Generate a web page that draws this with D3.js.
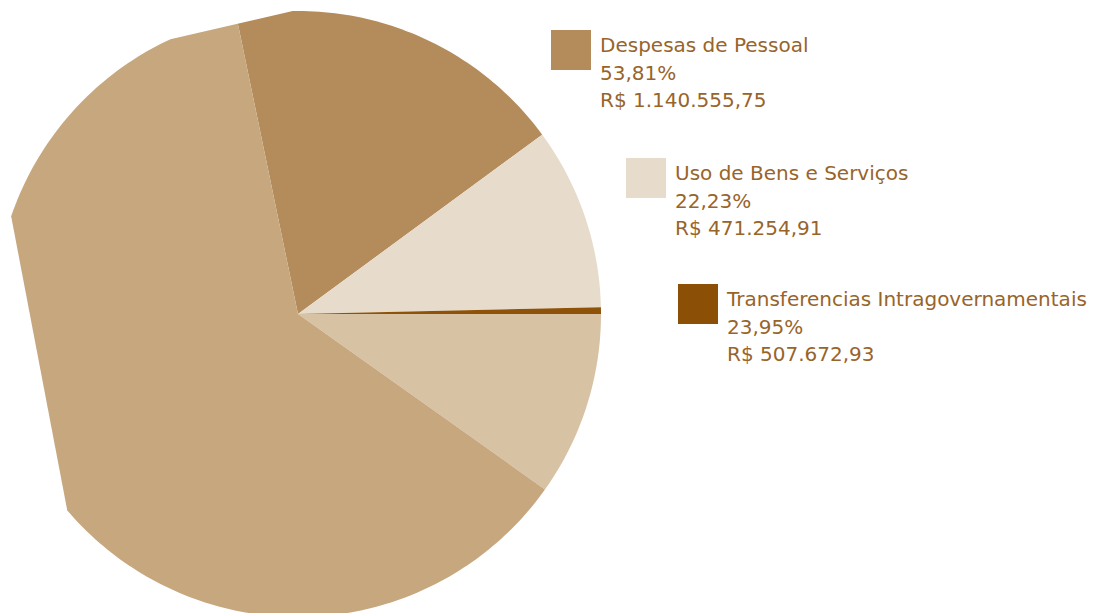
<!DOCTYPE html>
<html lang="pt">

<head>
    <meta charset="UTF-8">
    <title>Despesas</title>
    <script src="https://d3js.org/d3.v7.min.js"></script>
    <style>
        body {
            margin: 0;
            padding: 0;
            background: #fff;
            overflow: hidden;
        }

        .legend-text {
            font-family: "DejaVu Sans", sans-serif;
            font-size: 20px;
            fill: #98642a;
        }
    </style>
</head>

<body>
    <div id="chart"></div>

    <script>
        // slices (share of the circle, %), clockwise
        const sliceNames = ["Despesas de Pessoal", "Uso de Bens e Serviços", "Transferencias Intragovernamentais", "Outros A", "Outros B"];
        const sliceValues = [18.17, 9.72, 0.36, 9.83, 61.92];
        const sliceColors = ["#b48b5a", "#e7dccb", "#8e5209", "#d8c2a4", "#c6a77e"];

        // legend entries
        const legendLabels = ["Despesas de Pessoal", "Uso de Bens e Serviços", "Transferencias Intragovernamentais"];
        const legendPercents = ["53,81%", "22,23%", "23,95%"];
        const legendAmounts = ["R$ 1.140.555,75", "R$ 471.254,91", "R$ 507.672,93"];
        const legendColors = ["#b48b5a", "#e7dccb", "#8b5005"];

        const width = 1103;
        const height = 613;
        const cx = 298, cy = 314, radius = 303;
        const deg = Math.PI / 180;

        const svg = d3.select("#chart")
            .append("svg")
            .attr("width", width)
            .attr("height", height);

        // the original outline is flattened in two places (straight chords)
        const flatRanges = [[229.6, 288.8], [335.1, 359]];
        const outline = [];
        for (let a = 0; a <= 360; a += 1) {
            const inside = flatRanges.some(r => a > r[0] && a < r[1]);
            if (!inside) outline.push(a);
        }
        flatRanges.forEach(r => { outline.push(r[0], r[1]); });
        outline.sort((a, b) => a - b);

        const radial = d3.lineRadial()
            .angle(a => a * deg)
            .radius(radius)
            .curve(d3.curveLinearClosed);

        svg.append("clipPath")
            .attr("id", "pie-clip")
            .append("path")
            .attr("d", radial(outline));

        const pie = d3.pie()
            .sort(null)
            .startAngle(-11.7 * deg)
            .endAngle(-11.7 * deg + 2 * Math.PI);

        const arc = d3.arc()
            .innerRadius(0)
            .outerRadius(radius + 2);

        const g = svg.append("g")
            .attr("transform", `translate(${cx},${cy})`)
            .attr("clip-path", "url(#pie-clip)");

        g.selectAll("path")
            .data(pie(sliceValues))
            .enter().append("path")
            .attr("d", arc)
            .attr("fill", (d, i) => sliceColors[i]);

        // legend
        const legendPos = [[551, 30], [626, 158], [678, 284]];
        const legend = svg.append("g");

        legendLabels.forEach((label, i) => {
            const [x, y] = legendPos[i];
            const item = legend.append("g")
                .attr("transform", `translate(${x},${y})`);
            item.append("rect")
                .attr("width", 40)
                .attr("height", 40)
                .attr("fill", legendColors[i]);
            const lines = [label, legendPercents[i], legendAmounts[i]];
            lines.forEach((t, j) => {
                item.append("text")
                    .attr("class", "legend-text")
                    .attr("x", 49)
                    .attr("y", 22 + j * 27.5)
                    .text(t);
            });
        });
    </script>
</body>

</html>
